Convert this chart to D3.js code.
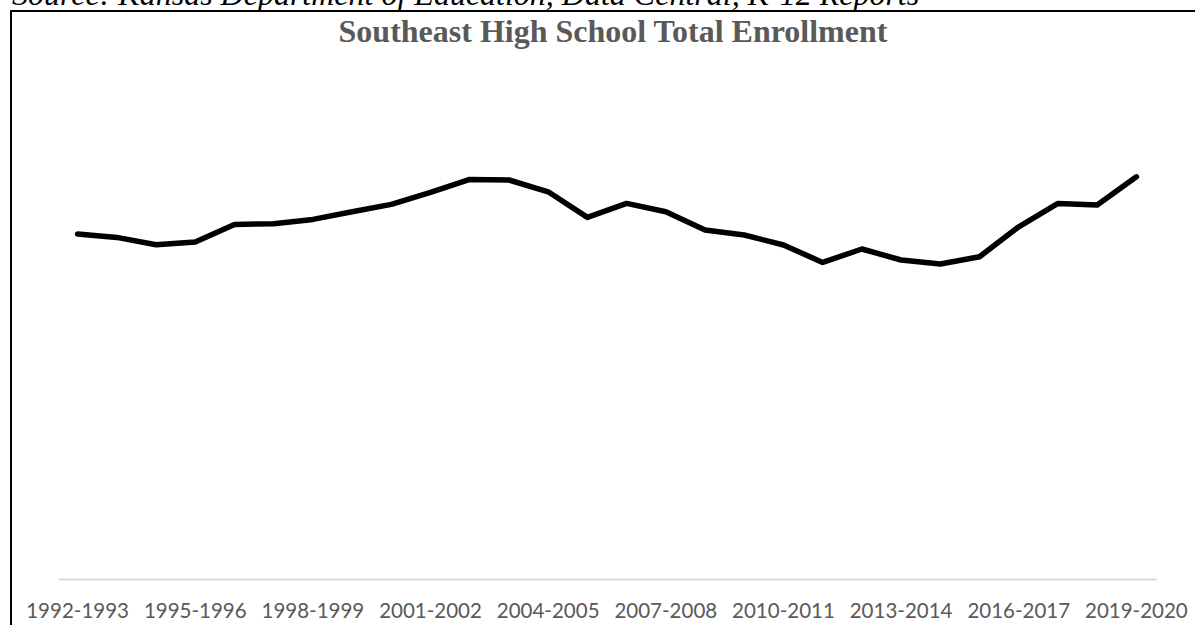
<!DOCTYPE html>
<html>
<head>
<meta charset="utf-8">
<script src="https://cdn.jsdelivr.net/npm/d3@7"></script>
<style>
  html, body { margin: 0; padding: 0; background: #fff; overflow: hidden; }
  svg { display: block; }
</style>
</head>
<body>
<svg id="chart" width="1195" height="625"></svg>
<script>
const years = [
  "1992-1993","1993-1994","1994-1995","1995-1996","1996-1997","1997-1998","1998-1999",
  "1999-2000","2000-2001","2001-2002","2002-2003","2003-2004","2004-2005","2005-2006",
  "2006-2007","2007-2008","2008-2009","2009-2010","2010-2011","2011-2012","2012-2013",
  "2013-2014","2014-2015","2015-2016","2016-2017","2017-2018","2018-2019","2019-2020"
];
const enrollment = [
  1725, 1708, 1671, 1685, 1773, 1776, 1798,
  1836, 1873, 1933, 1998, 1995, 1936, 1808,
  1878, 1836, 1745, 1720, 1670, 1583, 1650,
  1595, 1575, 1611, 1761, 1878, 1870, 2011
];
const tickLabels = years.filter((d, i) => i % 3 === 0);
const title = "Southeast High School Total Enrollment";
const source = "Source: Kansas Department of Education, Data Central, K-12 Reports";

const svg = d3.select("#chart");

// frame
svg.append("rect")
  .attr("x", 11).attr("y", 11)
  .attr("width", 1300).attr("height", 800)
  .attr("fill", "#fff")
  .attr("stroke", "#000").attr("stroke-width", 2);

// source note (cut at top)
svg.append("text")
  .attr("x", 12).attr("y", 5)
  .attr("font-family", "'Liberation Serif', 'Times New Roman', serif")
  .attr("font-style", "italic")
  .attr("font-size", 32)
  .attr("fill", "#000")
  .text(source);

// title
svg.append("text")
  .attr("x", 613).attr("y", 42)
  .attr("text-anchor", "middle")
  .attr("font-family", "'Liberation Serif', 'Times New Roman', serif")
  .attr("font-weight", "bold")
  .attr("font-size", 32)
  .attr("fill", "#595959")
  .text(title);

const x = d3.scaleBand().domain(years).range([58, 1156]);
const y = d3.scaleLinear().domain([0, 2500]).range([579, 79]);

// x axis
const axis = d3.axisBottom(x)
  .tickValues(tickLabels)
  .tickSize(0)
  .tickPadding(24);
const gx = svg.append("g")
  .attr("transform", `translate(0,${y(0)})`)
  .call(axis);
gx.select(".domain").attr("stroke", "#d9d9d9").attr("stroke-width", 2);
gx.selectAll("text")
  .attr("font-family", "Lato, 'Open Sans', sans-serif")
  .attr("font-size", 20.5)
  .attr("fill", "#595959")
  .attr("dy", "0.71em");

// line
const line = d3.line()
  .x((d, i) => x(years[i]) + x.bandwidth() / 2)
  .y(d => y(d));
svg.append("path")
  .datum(enrollment)
  .attr("fill", "none")
  .attr("stroke", "#000")
  .attr("stroke-width", 5.5)
  .attr("stroke-linejoin", "round")
  .attr("stroke-linecap", "round")
  .attr("d", line);
</script>
</body>
</html>
